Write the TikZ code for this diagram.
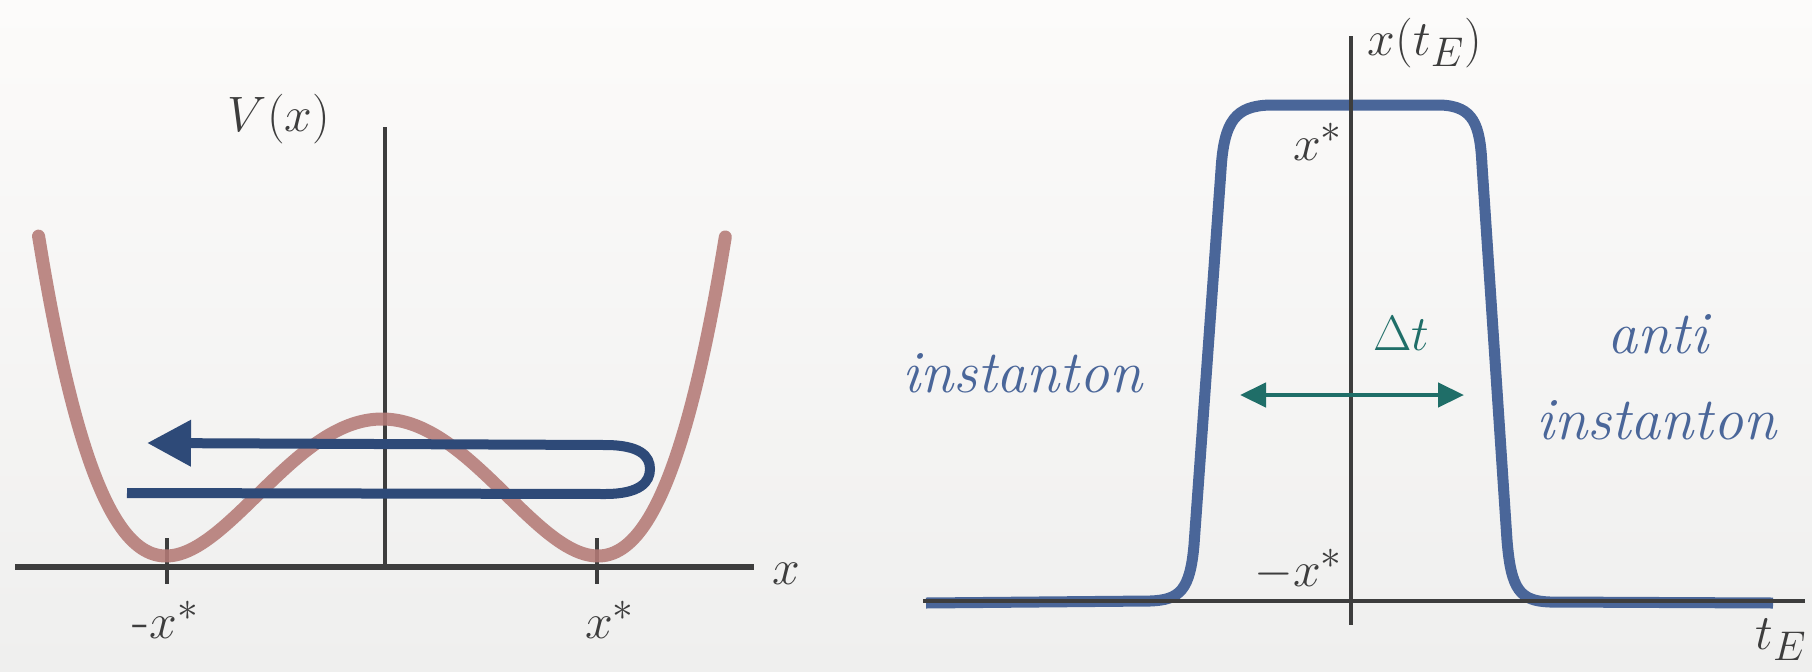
\documentclass[tikz,border=0pt]{standalone}
\usepackage{amsmath}
\usepackage{tikz}
\usetikzlibrary{arrows.meta}
\definecolor{Graphite}{HTML}{3D3D3D}
\definecolor{Chalk}{HTML}{B47A76}
\definecolor{Navy}{HTML}{2E4A78}
\definecolor{Slate}{HTML}{4A6699}
\definecolor{Pine}{HTML}{1F6E68}
\definecolor{PaperTop}{HTML}{FCFBFA}
\definecolor{PaperBot}{HTML}{EFEFEE}
\begin{document}
\begin{tikzpicture}[x=.5pt,y=-.5pt,
  axis/.style={Graphite,line width=2.3pt},
  lbl/.style={Graphite,inner sep=0pt,font=\fontsize{28}{32}\selectfont},
  word/.style={Slate,inner sep=0pt,anchor=base,font=\fontsize{30}{34}\selectfont\itshape}]
  \shade[top color=PaperTop,bottom color=PaperBot] (0,0) rectangle (1812,671);
  \useasboundingbox (0,0) rectangle (1812,671);
  \draw[axis,line width=2.6pt] (15,567) -- (754,567);
  \draw[axis,line width=2pt] (385,127) -- (385,567);
  \foreach \t in {167,597}
    \draw[axis,line width=2pt] (\t,538) -- (\t,584);
  \draw[Chalk,line width=6.5pt,opacity=.88,line cap=round] plot[domain=-1.59:1.59,samples=140,smooth] ({382+216*\x},{556-137*(\x*\x-1)*(\x*\x-1)});
  \draw[Navy,line width=5pt,-{Triangle[length=22pt,width=22pt]}] (127,493) -- (605,494) .. controls (640,494) and (650,482) .. (650,469) .. controls (650,456) and (640,445) .. (605,445) -- (147,443);
  \node[lbl] (Vx) at (279,119) {$V(x)$};
  \node[lbl] (xl) at (786,574) {$x$};
  \node[lbl] (mxl) at (166,620) {-$x^*$};
  \node[lbl] (pxl) at (610,620) {$x^*$};
  \draw[Slate,line width=5.5pt] (926,603) -- (1150,601) .. controls (1180,600) and (1190,590) .. (1194,545) -- (1221,170) .. controls (1224,120) and (1236,106) .. (1270,105) -- (1440,105) .. controls (1474,106) and (1480,125) .. (1482,165) -- (1507,540) .. controls (1511,590) and (1520,601) .. (1550,602) -- (1773,603);
  \draw[axis,line width=2.2pt] (923,601) -- (1805,601);
  \draw[axis] (1351,36) -- (1351,625);
  \coordinate (dtL) at (1240,395);
  \coordinate (dtR) at (1464,395);
  \draw[Pine,line width=2.2pt,{Triangle[length=13pt,width=12pt]}-{Triangle[length=13pt,width=12pt]}] (dtL) -- (dtR);
  \node[lbl,Pine] (dt) at (1401,333) {$\Delta t$};
  \node[lbl] (xt) at (1425,43) {$x(t_E)$};
  \node[lbl] (tE) at (1781,640) {$t_E$};
  \node[lbl,anchor=east] (top) at (1343,142) {$x^*$};
  \node[lbl,anchor=east] (bot) at (1343,570) {$-x^*$};
  \node[word] (inst) at (1022,392) {instanton};
  \node[word] (anti) at (1658,353) {anti};
  \node[word] (inst2) at (1656,439) {instanton};
\end{tikzpicture}
\end{document}
